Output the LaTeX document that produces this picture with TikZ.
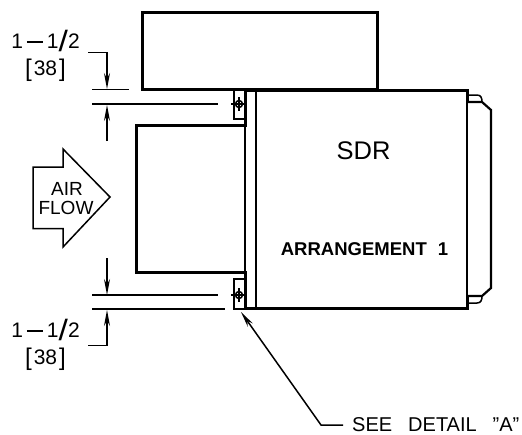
\documentclass[tikz,border=0pt]{standalone}
\usepackage{graphicx}
\usepackage{fontspec}
\setmainfont{Liberation Sans}
\usetikzlibrary{arrows.meta}
\newcommand{\sizetext}{1\hspace{4pt}\rule[5.5pt]{16pt}{1.5pt}\hspace{4pt}1\raisebox{-3pt}{\scalebox{1.6}[1.4]{/}}2}
\newcommand{\metrictext}{\raisebox{-1.5pt}{\scalebox{1.15}{[}}\hspace{2pt}38\hspace{2pt}\raisebox{-1.5pt}{\scalebox{1.15}{]}}}
\tikzset{
  thick line/.style={line width=3pt},
  thin line/.style={line width=1.5pt},
  dim arrow/.style={thin line,-{Stealth[length=16pt,width=6pt]}},
  label/.style={draw=none,inner sep=0pt,anchor=base,font=\fontsize{21}{21}\selectfont},
  small label/.style={draw=none,inner sep=0pt,anchor=base,font=\fontsize{19}{19}\selectfont}
}
\begin{document}
\begin{tikzpicture}[x=1pt,y=-1pt]
             \useasboundingbox (0,0) rectangle (522,434);

             \draw[thick line] (142,12)--(142,89)--(377,89)--(377,12)--cycle;
             \draw[thick line] (245,90)--(467,90)--(467,102);
             \draw[thick line] (245,308)--(467,308)--(467,296);
             \draw[thin line] (467,102)--(467,296);
             \draw[thick line] (245,90)--(245,125.5)--(136,125.5)--(136,272)--(245,272)--(245,308);
             \draw[thin line] (245,125.5)--(245,272);
             \draw[thin line,line width=2.2pt] (256,90)--(256,308);

             \draw[thin line] (245,89)--(234,89)--(234,119)--(245,119);
             \draw[thin line] (245,279)--(234,279)--(234,309)--(245,309);
             \foreach \y in {104,295} {
               \draw[thin line] (239,\y) circle (3.5pt);
               \draw[thin line] (231,\y)--(247,\y);
               \draw[thin line] (239,\y-7)--(239,\y+7);
             }

             \draw[thick line,line width=2.2pt] (467,102)--(482,102)--(491,110)--(491,288)--(482,296)--(467,296);
             \draw[thin line] (467,95)--(477,95) .. controls (481,95) and (482,98) .. (482,102);
             \draw[thin line] (467,303)--(477,303) .. controls (481,303) and (482,300) .. (482,296);

             \draw[thin line] (33,228.5)--(33,167)--(63,167)--(63,149)--(110,197)--(63,247)--(63,228.5)--cycle;
             \node[small label] (airlabel) at (67,195) {AIR};
             \node[small label] (flowlabel) at (66,214) {FLOW};

             \draw[thin line] (92,89.5)--(129,89.5);
             \draw[thin line] (92,104)--(218,104);
             \draw[thin line] (92,295)--(218,295);
             \draw[thin line] (92,309)--(225,309);

             \draw[dim arrow] (88,52.5)--(107,52.5)--(107,89);
             \draw[dim arrow] (107,141)--(107,105);
             \draw[dim arrow] (107,258)--(107,295);
             \draw[dim arrow] (88,345.7)--(107,345.7)--(107,310);

             \node[label] (topsize) at (45.5,48) {\sizetext};
             \node[label] (topmetric) at (45.5,75) {\metrictext};
             \node[label] (botsize) at (45.5,337) {\sizetext};
             \node[label] (botmetric) at (45.5,364) {\metrictext};

             \node[label,font=\fontsize{25.5}{25.5}\selectfont] (unitname) at (363.5,159) {SDR};
             \node[small label,font=\fontsize{18.5}{18.5}\selectfont\bfseries] (arrangement) at (364.5,255) {ARRANGEMENT\hspace{11pt}1};
             \node[small label,anchor=base west,font=\fontsize{20}{20}\selectfont] (seedetail) at (352,431) {SEE\hspace{16pt}DETAIL\hspace{16pt}"A"};

             \coordinate (leaderend) at (343,425);
             \coordinate (leaderknee) at (321,425);
             \coordinate (leadertip) at (241,312);
             \draw[dim arrow] (leaderend)--(leaderknee)--(leadertip);
             \end{tikzpicture}
\end{document}
